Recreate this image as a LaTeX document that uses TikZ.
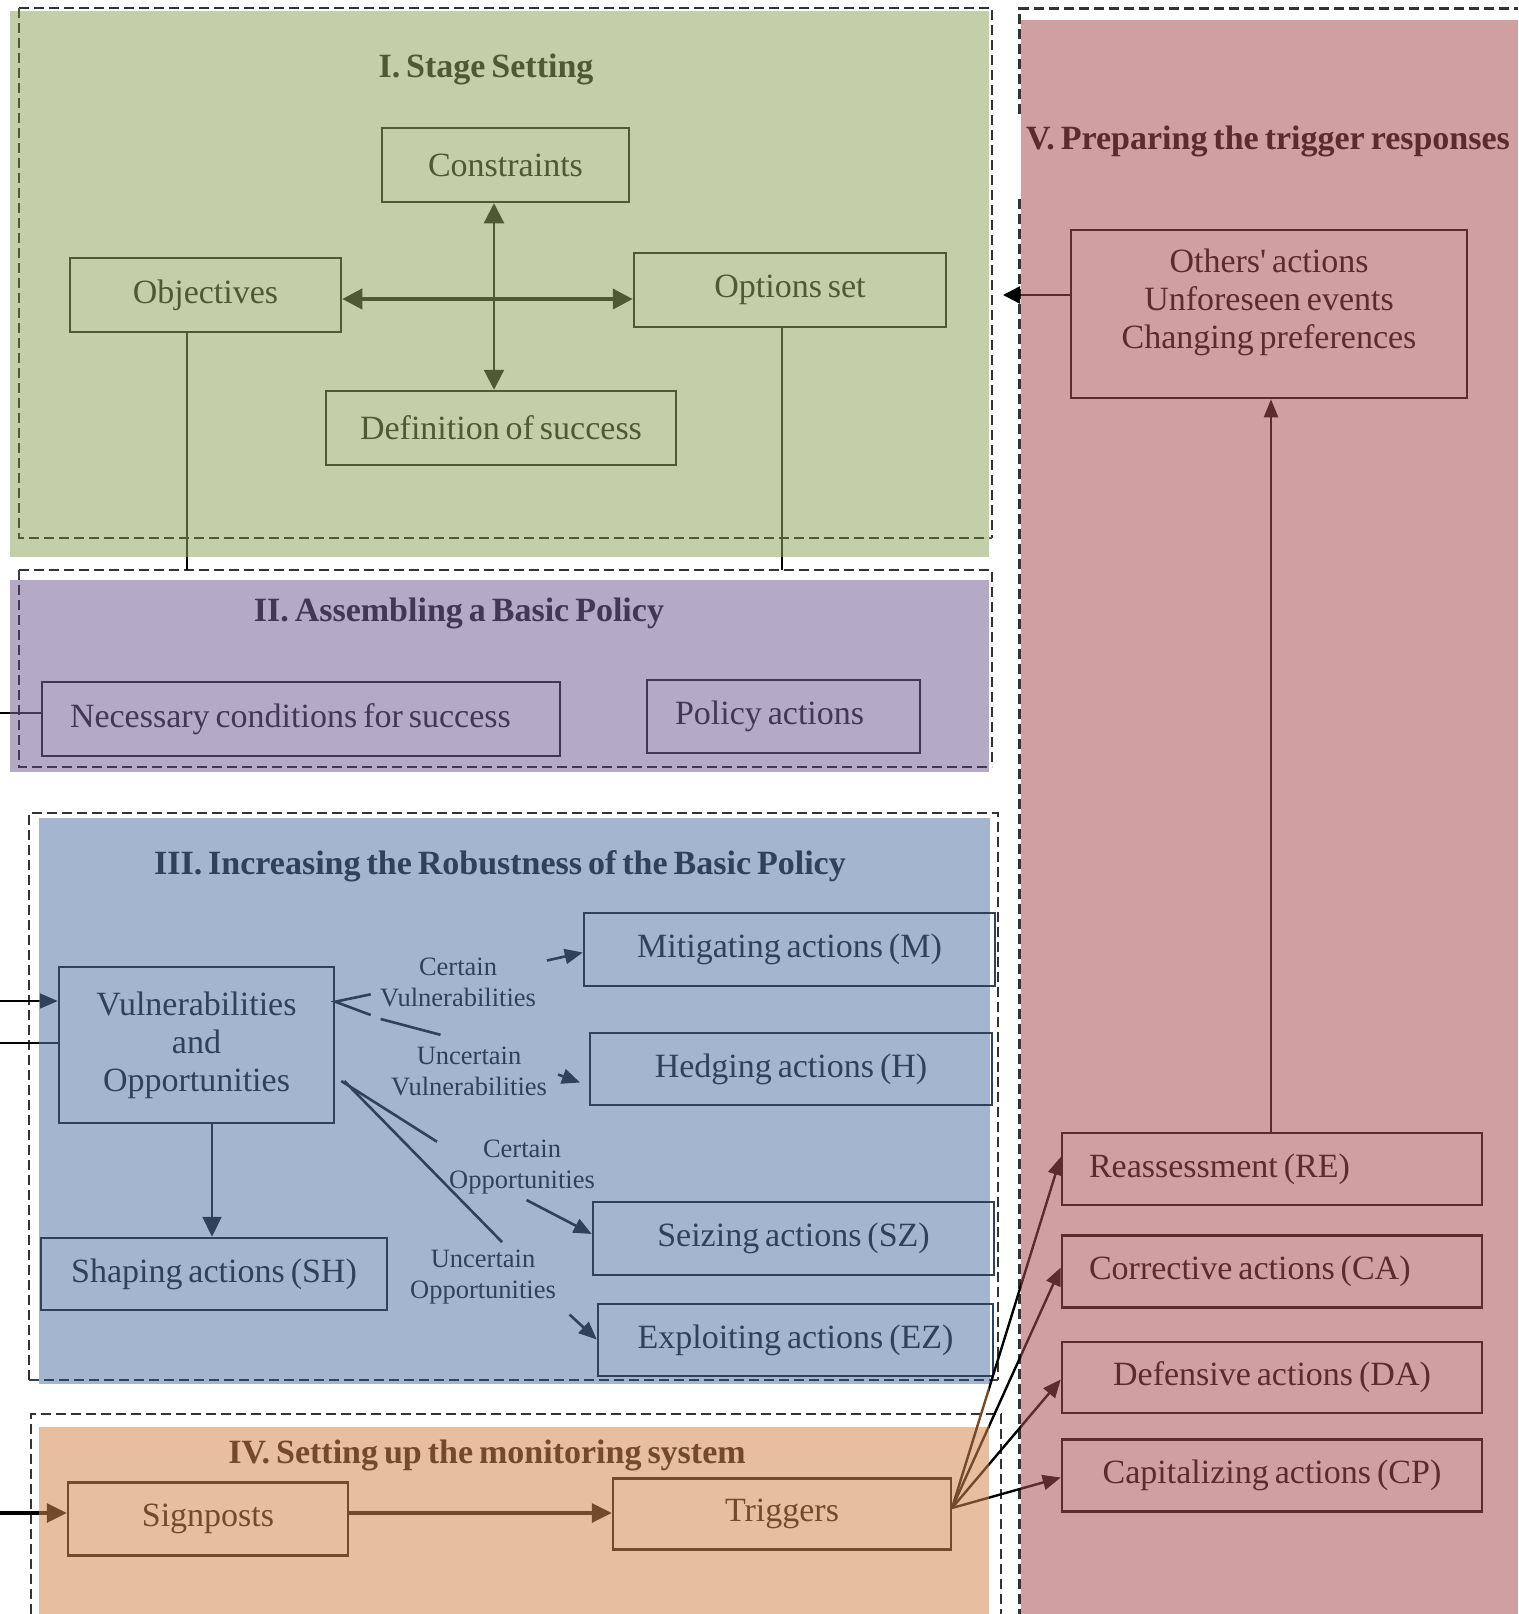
\documentclass[tikz,border=0pt]{standalone}
\usepackage{fontspec}
\setmainfont{Liberation Serif}[WordSpace=0.7]
\newfontfamily\lserif{Liberation Serif}[WordSpace=0.7]
\usetikzlibrary{arrows.meta}
\definecolor{gbg}{HTML}{C3CFA8}
\definecolor{gdk}{HTML}{4E5A35}
\definecolor{pbg}{HTML}{B5AAC5}
\definecolor{pdk}{HTML}{433853}
\definecolor{bbg}{HTML}{A3B5CF}
\definecolor{bdk}{HTML}{2F415B}
\definecolor{obg}{HTML}{E8BF9E}
\definecolor{odk}{HTML}{744B2A}
\definecolor{rbg}{HTML}{D0A0A0}
\definecolor{rdk}{HTML}{5C2C2C}
\definecolor{dashc}{HTML}{333333}
\tikzset{
  box/.style={draw, rectangle, line width=2.5pt, inner sep=0pt, font=\fontsize{34}{38}\selectfont},
  txt/.style={inner sep=0pt, font=\fontsize{34}{38}\selectfont},
  ttl/.style={font=\bfseries\fontsize{34}{38}\selectfont, inner sep=0pt},
  lbl/.style={font=\fontsize{26.5}{31}\selectfont, align=center, inner sep=0pt},
  dashln/.style={line width=2.4pt, dash pattern=on 10pt off 5pt},
  conn/.style={line width=2.2pt},
  tipb/.style={-{Triangle[length=20pt,width=19pt]}},
  tipsb/.style={{Triangle[length=20pt,width=20pt]}-{Triangle[length=20pt,width=20pt]}},
  tipm/.style={-{Triangle[length=18pt,width=15pt]}},
}
\newcommand{\splitx}[5]{%
  \begin{scope}\clip (-5,-5) rectangle (#1,1620); \draw[#4,color=#2] #5; \end{scope}%
  \begin{scope}\clip (#1,-5) rectangle (1525,1620); \draw[#4,color=#3] #5; \end{scope}}
\newcommand{\splitxx}[7]{%
  \begin{scope}\clip (-5,-5) rectangle (#1,1620); \draw[#6,color=#3] #7; \end{scope}%
  \begin{scope}\clip (#1,-5) rectangle (#2,1620); \draw[#6,color=#4] #7; \end{scope}%
  \begin{scope}\clip (#2,-5) rectangle (1525,1620); \draw[#6,color=#5] #7; \end{scope}}
\newcommand{\splity}[5]{%
  \begin{scope}\clip (-5,-5) rectangle (1525,#1); \draw[#4,color=#2] #5; \end{scope}%
  \begin{scope}\clip (-5,#1) rectangle (1525,1620); \draw[#4,color=#3] #5; \end{scope}}
\begin{document}
\begin{tikzpicture}[x=1pt,y=-1pt]
\useasboundingbox (0,0) rectangle (1518,1614);
\fill[white] (0,0) rectangle (1518,1614);
% region fills
\fill[gbg] (10,11) rectangle (989,557);
\fill[pbg] (10,580) rectangle (989,772);
\fill[bbg] (39,818) rectangle (990,1384);
\fill[obg] (39,1427) rectangle (989,1614);
\fill[rbg] (1021,20) rectangle (1518,1614);
% dashed region borders
\draw[dashln,dashc] (19,8) -- (992,8) -- (992,538);
\draw[dashln,gdk] (19,8) -- (19,538) -- (992,538);
\draw[dashln,dashc] (19,570) -- (992,570) -- (992,767);
\draw[dashln,pdk] (19,570) -- (19,767) -- (992,767);
\draw[dashln,dashc] (29,1380) -- (29,813) -- (998,813) -- (998,1380);
\draw[dashln,bdk] (29,1380) -- (998,1380);
\draw[dashln,dashc] (31,1614) -- (31,1414) -- (1001,1414) -- (1001,1614);
\draw[dashln,dashc] (1019.5,114) -- (1019.5,8.5) -- (1518,8.5);
\draw[dashln,dashc] (1019.5,199) -- (1019.5,1614);

% ---------- I. Stage Setting
\coordinate (vx) at (494,0);
\coordinate (hy) at (0,299);
\begin{scope}[color=gdk]
\node[ttl] (t1) at (486,69) {I. Stage Setting};
\node[box,minimum width=247pt,minimum height=74pt] (con) at (505.5,165) {Constraints};
\node[box,minimum width=271pt,minimum height=74pt] (obj) at (205.5,295) {Objectives};
\node[box,minimum width=312pt,minimum height=74pt] (opt) at (790,290) {Options set};
\node[box,minimum width=350pt,minimum height=74pt] (def) at (501,428) {Definition of success};
\draw[conn,tipsb] (con.south -| vx) -- (def.north -| vx);
\draw[line width=4pt,tipsb] (obj.east |- hy) -- (opt.west |- hy);
\end{scope}
\coordinate (objE) at (187,570);
\coordinate (optE) at (782,570);
\splity{557}{gdk}{black}{conn}{(obj.south -| objE) -- (objE)}
\splity{557}{gdk}{black}{conn}{(opt.south -| optE) -- (optE)}

% ---------- II. Assembling a Basic Policy
\begin{scope}[color=pdk]
\node[ttl] (t2) at (459,613) {II. Assembling a Basic Policy};
\node[box,minimum width=518pt,minimum height=74pt,text width=462pt,align=flush left] (nec) at (301,719) {Necessary conditions for success};
\node[box,minimum width=273pt,minimum height=73pt,text width=217pt,align=flush left] (pol) at (783.5,716.5) {Policy actions};
\end{scope}
\coordinate (necL) at (0,713);
\splitx{10}{black}{pdk}{conn}{(necL) -- (nec.west |- necL)}

% ---------- III. Robustness
\begin{scope}[color=bdk]
\node[ttl] (t3) at (500,866) {III. Increasing the Robustness of the Basic Policy};
\node[box,minimum width=275pt,minimum height=156pt,align=center] (vul) at (196.5,1045) {Vulnerabilities\\and\\Opportunities};
\node[box,minimum width=411pt,minimum height=73pt] (mit) at (789.5,949.5) {Mitigating actions (M)};
\node[box,minimum width=402pt,minimum height=72pt] (hed) at (791,1069) {Hedging actions (H)};
\node[box,minimum width=401pt,minimum height=73pt] (sez) at (793.5,1238.5) {Seizing actions (SZ)};
\node[box,minimum width=395pt,minimum height=72pt] (exz) at (795.5,1340) {Exploiting actions (EZ)};
\node[box,minimum width=346pt,minimum height=72pt] (sha) at (214,1274) {Shaping actions (SH)};
\node[lbl] (lcv) at (458,982.5) {Certain\\Vulnerabilities};
\node[lbl] (luv) at (469,1071) {Uncertain\\Vulnerabilities};
\node[lbl] (lco) at (522,1167.5) {Certain\\Opportunities};
\node[lbl] (luo) at (483,1277.5) {Uncertain\\Opportunities};
\coordinate (shx) at (212,0);
\draw[conn,tipb] (vul.south -| shx) -- (sha.north -| shx);
\coordinate (va) at (0,1001.7);
\coordinate (vb) at (0,1081);
\draw[line width=2.6pt] (370.7,994.3) -- (vul.east |- va) -- (370.7,1015);
\draw[line width=2.6pt] (380.7,1019) -- (440.5,1034.8);
\draw[line width=2.6pt,tipm] (547,960.5) -- (mit.west |- 0,952.5);
\draw[line width=2.6pt,tipm] (558,1074.5) -- (580,1082.5);
\draw[line width=2.6pt] ([xshift=6pt]vul.east |- vb) -- (437,1141.7);
\draw[line width=2.6pt] ([xshift=9pt]vul.east |- vb) -- (502,1242);
\draw[line width=2.6pt,tipm] (526.5,1200) -- (sez.west |- 0,1234);
\draw[line width=2.6pt,tipm] (569.5,1314.5) -- (exz.west |- 0,1339.5);
\end{scope}
\coordinate (vl1) at (0,1001);
\coordinate (vl2) at (0,1043);
\splitx{39}{black}{bdk}{conn,tipm}{(vl1) -- (vul.west |- vl1)}
\splitx{39}{black}{bdk}{conn}{(vl2) -- (vul.west |- vl2)}

% ---------- IV. Monitoring
\begin{scope}[color=odk]
\node[ttl] (t4) at (487,1455) {IV. Setting up the monitoring system};
\node[box,minimum width=280pt,minimum height=73pt] (sig) at (208,1519) {Signposts};
\node[box,minimum width=338pt,minimum height=71pt] (tri) at (782,1514) {Triggers};
\coordinate (sy) at (0,1513);
\draw[line width=3.4pt,tipb] (sig.east |- sy) -- (tri.west |- sy);
\end{scope}
\coordinate (sgl) at (0,1513);
\splitx{39}{black}{odk}{line width=3.4pt,tipb}{(sgl) -- (sig.west |- sgl)}

% ---------- V. Trigger responses
\node[ttl,color=rdk,anchor=west] (t5) at (1026,141) {V. Preparing the trigger responses};
\begin{scope}[color=rdk]
\node[box,minimum width=396pt,minimum height=168pt] (oth) at (1269,314) {};
\node[txt,align=center,font=\lserif\fontsize{34}{38}\selectfont] (othtxt) at (1269,302) {Others' actions\\Unforeseen events\\Changing preferences};
\node[box,minimum width=420pt,minimum height=72pt,text width=366pt,align=flush left] (re) at (1272,1169) {Reassessment (RE)};
\node[box,minimum width=420pt,minimum height=72pt,text width=366pt,align=flush left] (ca) at (1272,1271.5) {Corrective actions (CA)};
\node[box,minimum width=420pt,minimum height=71pt] (da) at (1272,1377.5) {Defensive actions (DA)};
\node[box,minimum width=420pt,minimum height=72pt] (cp) at (1272,1475.5) {Capitalizing actions (CP)};
\coordinate (rx) at (1271,0);
\draw[conn,-{Triangle[length=18pt,width=14pt]}] (re.north -| rx) -- (oth.south -| rx);
\end{scope}
\coordinate (othTip) at (1003,295);
\splitx{1021}{black}{rdk}{line width=2.6pt,-{Triangle[length=17pt,width=17pt]}}{(oth.west |- othTip) -- (othTip)}
\coordinate (trs) at (952,1508);
\splitxx{989}{1021}{odk}{black}{rdk}{line width=2.4pt,tipm}{(trs) -- ([yshift=12pt]re.west)}
\splitxx{989}{1021}{odk}{black}{rdk}{line width=2.4pt,tipm}{(trs) -- ([yshift=4pt]ca.west)}
\splitxx{989}{1021}{odk}{black}{rdk}{line width=2.4pt,tipm}{(trs) -- ([yshift=-2pt]da.west)}
\splitxx{989}{1021}{odk}{black}{rdk}{line width=2.4pt,tipm}{(trs) -- ([yshift=-2pt]cp.west)}
\end{tikzpicture}
\end{document}
